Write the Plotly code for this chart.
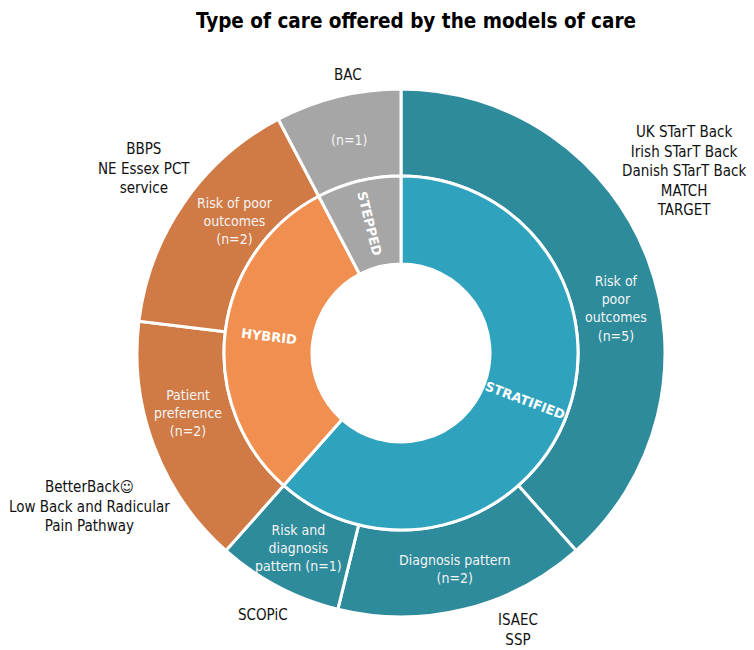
import math
import plotly.graph_objects as go

# ---------------- data ----------------
care_types = ["STRATIFIED", "HYBRID", "STEPPED"]
care_type_counts = [8, 4, 1]

sub_names = ["Risk of<br>poor<br>outcomes", "Diagnosis pattern", "Risk and<br>diagnosis<br>pattern",
             "Patient<br>preference", "Risk of poor<br>outcomes", ""]
sub_parents = ["STRATIFIED", "STRATIFIED", "STRATIFIED", "HYBRID", "HYBRID", "STEPPED"]
sub_counts = [5, 2, 1, 2, 2, 1]
sub_count_sep = ["<br>", "<br>", " ", "<br>", "<br>", ""]

models = [
    "UK STarT Back<br>Irish STarT Back<br>Danish STarT Back<br>MATCH<br>TARGET",
    "ISAEC<br>SSP",
    "SCOPiC",
    "BetterBack☺<br>Low Back and Radicular<br>Pain Pathway",
    "BBPS<br>NE Essex PCT<br>service",
    "BAC",
]

title_text = "Type of care offered by the models of care"

# ---------------- styles / layout ----------------
OFF = 8                    # page body margin of the html output
W, H = 754 - OFF, 650 - OFF
CX, CY = 401, 353          # chart centre in screen pixels
R_OUT, R_MID, R_HOLE = 264, 177, 89

inner_colors = {"STRATIFIED": "#2fa3be", "HYBRID": "#f08f4f", "STEPPED": "#a6a6a6"}
outer_colors = {"STRATIFIED": "#2d8b9b", "HYBRID": "#d07a45", "STEPPED": "#a6a6a6"}

FONT = "'DejaVu Sans Condensed', 'DejaVu Sans', sans-serif"

# label placement tweaks (angle offset in degrees, radius in px)
inside_tweak = [(9, 220), (0, 222), (0, 220), (5, 221), (4, 212), (0, 219)]
outside_tweak = [(-12, 336), (-9, 301), (0, 296), (-5.5, 347), (1, 316), (3, 283)]
TYPE_LABEL_R = 133


def px_to_paper(x, y):
    return (x - OFF) / W, 1 - (y - OFF) / H


def polar(theta_deg, r):
    t = math.radians(theta_deg)
    return CX + r * math.sin(t), CY - r * math.cos(t)


def dom(r):
    x0, y0 = px_to_paper(CX - r, CY + r)
    x1, y1 = px_to_paper(CX + r, CY - r)
    return dict(x=[x0, x1], y=[y0, y1])


fig = go.Figure()

# outer ring
fig.add_trace(go.Pie(
    values=sub_counts,
    labels=[f"{p}-{i}" for i, p in enumerate(sub_parents)],
    marker=dict(colors=[outer_colors[p] for p in sub_parents], line=dict(color="white", width=3)),
    hole=R_MID / R_OUT,
    sort=False, direction="clockwise", rotation=0,
    textinfo="none", hoverinfo="label+value",
    domain=dom(R_OUT), showlegend=False,
))

# inner ring
fig.add_trace(go.Pie(
    values=care_type_counts,
    labels=care_types,
    marker=dict(colors=[inner_colors[c] for c in care_types], line=dict(color="white", width=3)),
    hole=R_HOLE / R_MID,
    sort=False, direction="clockwise", rotation=0,
    textinfo="none", hoverinfo="label+value",
    domain=dom(R_MID), showlegend=False,
))

annotations = []

# inner ring labels: radial orientation at slice middle
tot_t = sum(care_type_counts)
cum = 0
for name, v in zip(care_types, care_type_counts):
    mid = (cum + v / 2) / tot_t * 360
    cum += v
    ang = mid - 90
    while ang > 90:
        ang -= 180
    while ang < -90:
        ang += 180
    x, y = px_to_paper(*polar(mid, TYPE_LABEL_R))
    annotations.append(dict(x=x, y=y, xref="paper", yref="paper", text=f"<b>{name}</b>",
                            showarrow=False, xanchor="center", yanchor="middle", textangle=ang,
                            font=dict(family="'DejaVu Sans', sans-serif", size=13, color="white")))

# outer ring labels
total = sum(sub_counts)
cum = 0
for i, v in enumerate(sub_counts):
    mid = (cum + v / 2) / total * 360
    cum += v
    dth, r = inside_tweak[i]
    x, y = px_to_paper(*polar(mid + dth, r))
    txt = (sub_names[i] + sub_count_sep[i] if sub_names[i] else "") + f"(n={v})"
    annotations.append(dict(x=x, y=y, xref="paper", yref="paper", text=txt, showarrow=False,
                            xanchor="center", yanchor="middle",
                            font=dict(family=FONT, size=14, color="#f4f4f4")))
    dth, r = outside_tweak[i]
    x, y = px_to_paper(*polar(mid + dth, r))
    annotations.append(dict(x=x, y=y, xref="paper", yref="paper", text=models[i], showarrow=False,
                            xanchor="center", yanchor="middle",
                            font=dict(family=FONT, size=15, color="#111111")))

tx, _ = px_to_paper(416, 18)
annotations.append(dict(x=tx, y=1, xref="paper", yref="paper", text=f"<b>{title_text}</b>",
                        showarrow=False, xanchor="center", yanchor="top", borderpad=0,
                        font=dict(family=FONT, size=20.5, color="#000000")))

fig.update_layout(
    width=W, height=H,
    margin=dict(l=0, r=0, t=0, b=0),
    paper_bgcolor="white", plot_bgcolor="white",
    annotations=annotations,
    showlegend=False,
)

fig.write_html("out.html")
